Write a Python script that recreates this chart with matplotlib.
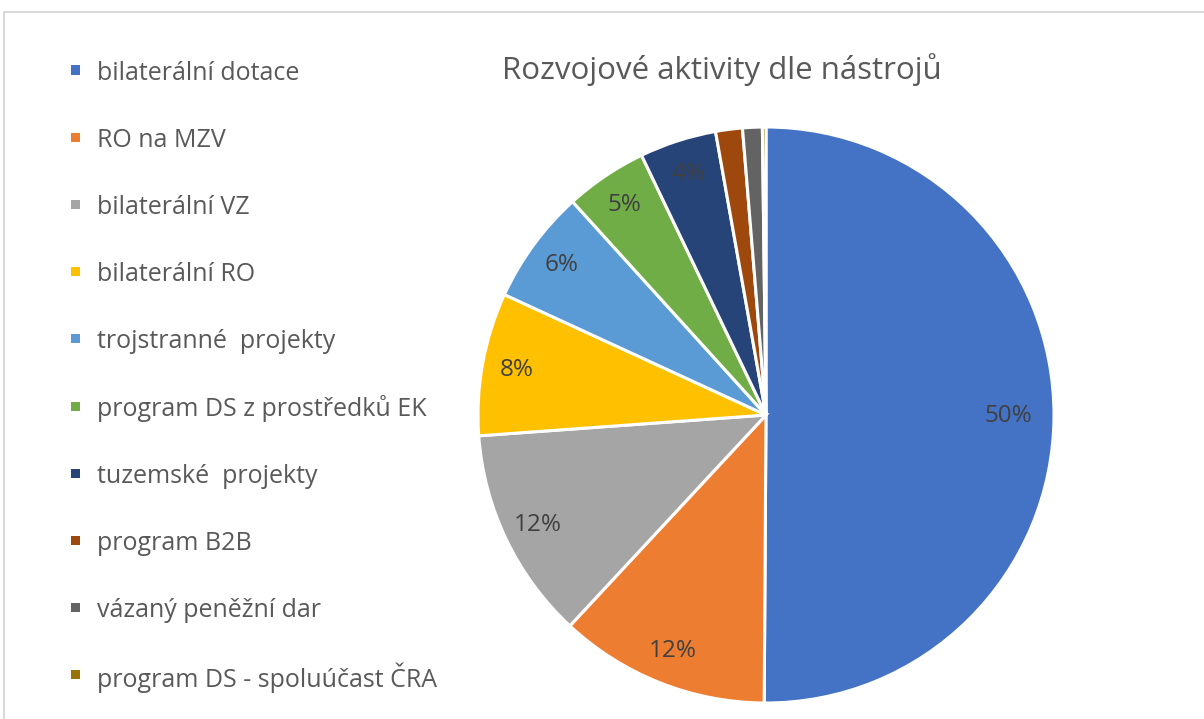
import numpy as np
import matplotlib.pyplot as plt
from matplotlib.patches import Rectangle

# Rozvojové aktivity dle nástrojů (share of total, %)
categories = [
    "bilaterální dotace",
    "RO na MZV",
    "bilaterální VZ",
    "bilaterální RO",
    "trojstranné  projekty",
    "program DS z prostředků EK",
    "tuzemské  projekty",
    "program B2B",
    "vázaný peněžní dar",
    "program DS - spoluúčast ČRA",
]
shares = [50.0, 11.8, 11.9, 8.0, 6.4, 4.6, 4.3, 1.5, 1.1, 0.2]
pct_labels = ["50%", "12%", "12%", "8%", "6%", "5%", "4%", "", "", ""]
colors = ["#4472C4", "#ED7D31", "#A5A5A5", "#FFC000", "#5B9BD5",
          "#70AD47", "#264478", "#9E480E", "#636363", "#997300"]

text_color = "#595959"
fonts = ["Open Sans", "DejaVu Sans"]
W, H = 1204, 719

fig = plt.figure(figsize=(W / 100, H / 100), dpi=100)

# light chart-area frame
fig.patches.append(Rectangle((4 / W, -0.02), 1.1, 1 - 12 / H + 0.02,
                             transform=fig.transFigure, fill=False,
                             edgecolor="#d9d9d9", linewidth=1.5))

ax = fig.add_axes([(766 - 288) / W, (H - 415 - 288) / H, 576 / W, 576 / H])
wedges, _ = ax.pie(shares, colors=colors, startangle=90, counterclock=False,
                   radius=1.0,
                   wedgeprops=dict(edgecolor="white", linewidth=2.2))
ax.set_xlim(-1, 1)
ax.set_ylim(-1, 1)
ax.set_aspect("auto")
ax.axis("off")

for w, lab in zip(wedges, pct_labels):
    if not lab:
        continue
    mid = np.deg2rad((w.theta1 + w.theta2) / 2)
    d = 0.84 if lab == "50%" else 0.88
    ax.text(d * np.cos(mid), d * np.sin(mid), lab, ha="center", va="center",
            fontsize=17.5, color="#404040", family=fonts)

fig.text(722 / W, 1 - 70 / H, "Rozvojové aktivity dle nástrojů", ha="center",
         va="center", fontsize=22.5, color=text_color, family=fonts)

# legend (manual, Excel-like)
row0, step, msize = 70, 67.2, 9
for i, (name, c) in enumerate(zip(categories, colors)):
    yc = row0 + i * step
    fig.patches.append(Rectangle(((75 - msize / 2) / W, 1 - (yc + msize / 2) / H),
                                 msize / W, msize / H, transform=fig.transFigure,
                                 facecolor=c, edgecolor="none"))
    fig.text(97 / W, 1 - yc / H, name, ha="left", va="center_baseline",
             fontsize=18, color=text_color, family=fonts)

fig.savefig("out.png", dpi=100, facecolor="white")
